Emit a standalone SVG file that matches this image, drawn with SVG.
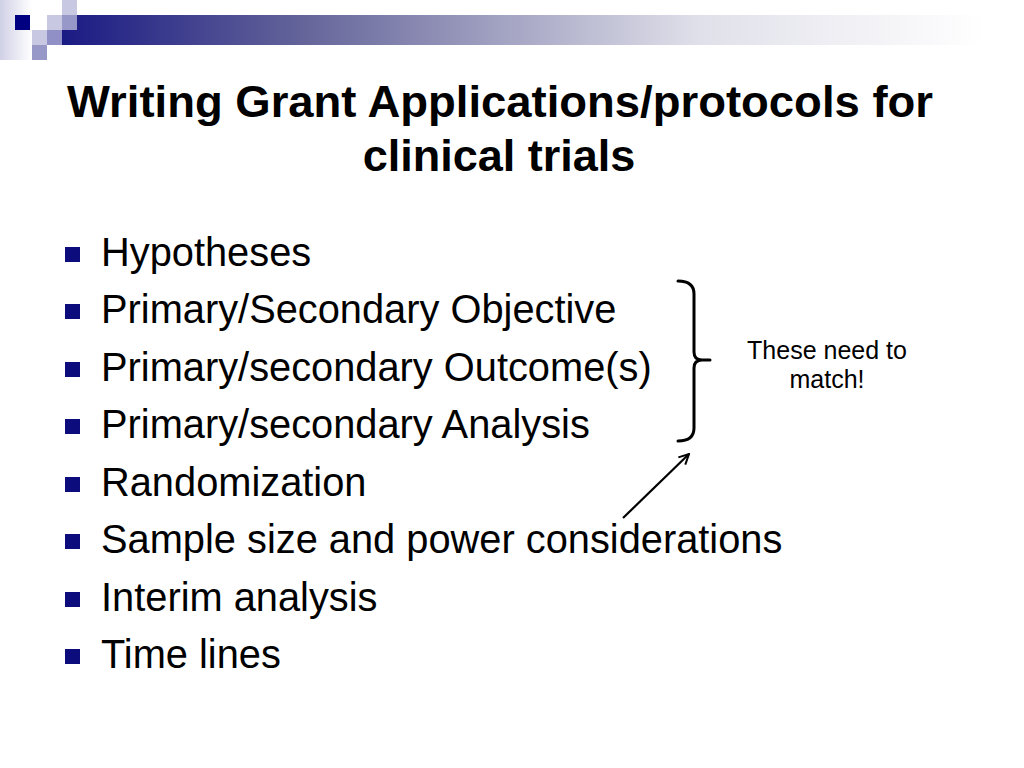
<svg xmlns="http://www.w3.org/2000/svg" width="1024" height="768" viewBox="0 0 1024 768">
  <style>
    .title { font-family: "Liberation Sans", Arial, sans-serif; font-weight: bold; font-size: 45px; fill: #000; text-anchor: middle; }
    .item { font-family: "Liberation Sans", Arial, sans-serif; font-size: 39.8px; fill: #000; }
    .note { font-family: "Liberation Sans", Arial, sans-serif; font-size: 25px; fill: #000; text-anchor: middle; }
    .bullet { fill: #0c0c7c; }
    .line { fill: none; stroke: #000; stroke-width: 3; stroke-linecap: round; stroke-linejoin: round; }
  </style>
  <defs>
    <linearGradient id="bar" x1="62" y1="0" x2="985" y2="0" gradientUnits="userSpaceOnUse">
      <stop offset="0" stop-color="#1a1a84"/>
      <stop offset="0.26" stop-color="#64649a"/>
      <stop offset="0.69" stop-color="#e0e0ea"/>
      <stop offset="1" stop-color="#ffffff"/>
    </linearGradient>
    <linearGradient id="fade" x1="0" y1="0" x2="32" y2="0" gradientUnits="userSpaceOnUse">
      <stop offset="0" stop-color="#d0d0e6"/>
      <stop offset="1" stop-color="#ffffff"/>
    </linearGradient>
    <marker id="arrow" viewBox="0 0 12 12" refX="11" refY="6" markerWidth="12" markerHeight="12" markerUnits="userSpaceOnUse" orient="auto">
      <path d="M1,1 L11,6 L1,11" fill="none" stroke="#000" stroke-width="2"/>
    </marker>
  </defs>

  <rect width="1024" height="768" fill="#ffffff"/>

  <g id="header">
    <rect x="0" y="0" width="32" height="60" fill="url(#fade)"/>
    <rect x="62" y="15" width="923" height="30" fill="url(#bar)"/>
    <rect x="15" y="15" width="15" height="15" fill="#000080"/>
    <rect x="47" y="15" width="15" height="15" fill="#c8c8e2"/>
    <rect x="62" y="15" width="15" height="15" fill="#9898c8"/>
    <rect x="62" y="0" width="15" height="15" fill="#c8c8e2"/>
    <rect x="32" y="30" width="15" height="15" fill="#c8c8e2"/>
    <rect x="47" y="30" width="15" height="15" fill="#9090c6"/>
    <rect x="32" y="45" width="15" height="15" fill="#9898c8"/>
  </g>

  <g id="title">
    <text class="title" x="500" y="117" textLength="866" lengthAdjust="spacingAndGlyphs">Writing Grant Applications/protocols for</text>
    <text class="title" x="499" y="171">clinical trials</text>
  </g>

  <g id="bullets">
    <rect class="bullet" x="65" y="247" width="15" height="15"/>
    <text class="item" x="101" y="266">Hypotheses</text>
    <rect class="bullet" x="65" y="304" width="15" height="15"/>
    <text class="item" x="101" y="323">Primary/Secondary Objective</text>
    <rect class="bullet" x="65" y="362" width="15" height="15"/>
    <text class="item" x="101" y="381">Primary/secondary Outcome(s)</text>
    <rect class="bullet" x="65" y="419" width="15" height="15"/>
    <text class="item" x="101" y="438">Primary/secondary Analysis</text>
    <rect class="bullet" x="65" y="477" width="15" height="15"/>
    <text class="item" x="101" y="496">Randomization</text>
    <rect class="bullet" x="65" y="534" width="15" height="15"/>
    <text class="item" x="101" y="553">Sample size and power considerations</text>
    <rect class="bullet" x="65" y="592" width="15" height="15"/>
    <text class="item" x="101" y="611">Interim analysis</text>
    <rect class="bullet" x="65" y="649" width="15" height="15"/>
    <text class="item" x="101" y="668">Time lines</text>
  </g>

  <g id="note">
    <text class="note" x="827" y="359">These need to</text>
    <text class="note" x="827" y="388">match!</text>
  </g>

  <g id="connectors">
    <path class="line" d="M678,281 Q694,281 694,294 L694,352 Q694,360 702,360 L710,360 M702,360 Q694,360 694,368 L694,428 Q694,441 678,441"/>
    <line x1="623" y1="518" x2="689" y2="454" stroke="#000" stroke-width="2.2" marker-end="url(#arrow)"/>
  </g>
</svg>
